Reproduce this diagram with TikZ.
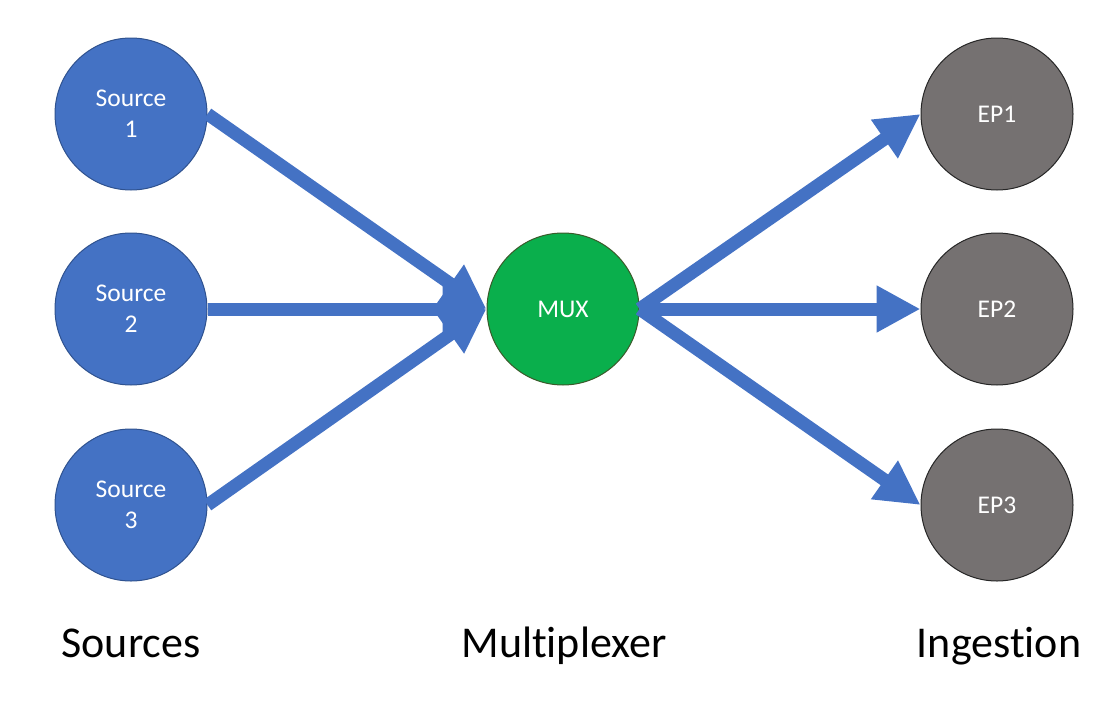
\documentclass[tikz,border=0pt]{standalone}
\usepackage{fontspec}
\setmainfont[Ligatures=NoCommon]{Carlito}
\usetikzlibrary{arrows.meta}
\definecolor{srcblue}{HTML}{4472C4}
\definecolor{srcedge}{HTML}{2F528F}
\definecolor{muxgreen}{HTML}{0AAF4C}
\definecolor{muxedge}{HTML}{3A5A2A}
\definecolor{epgrey}{HTML}{757171}
\definecolor{epedge}{HTML}{262626}
\tikzset{
  circ/.style={circle, minimum size=152pt, inner sep=0pt, line width=1pt, text=white, align=center,
    font=\fontsize{25.5}{31}\selectfont},
  src/.style={circ, fill=srcblue, draw=srcedge},
  mux/.style={circ, fill=muxgreen, draw=muxedge},
  ep/.style={circ, fill=epgrey, draw=epedge},
  flow/.style={draw=srcblue, line width=13pt, -{Triangle[width=44pt,length=44pt]}},
  lbl/.style={anchor=base, font=\fontsize{44}{52}\selectfont, text=black}
}
\begin{document}
\begin{tikzpicture}[x=1pt,y=-1pt]
\useasboundingbox (0,0) rectangle (1120,718);
\node[src] (s1) at (131,114) {Source\\1};
\node[src] (s2) at (131,309) {Source\\2};
\node[src] (s3) at (131,505) {Source\\3};
\node[mux] (mux) at (563,309) {MUX};
\node[ep] (e1) at (997,114) {EP1};
\node[ep] (e2) at (997,309) {EP2};
\node[ep] (e3) at (997,505) {EP3};
\draw[flow] (s1.east) -- (mux.west);
\draw[flow] (s2.east) -- (mux.west);
\draw[flow] (s3.east) -- (mux.west);
\draw[flow] (mux.east) -- (e1.west);
\draw[flow] (mux.east) -- (e2.west);
\draw[flow] (mux.east) -- (e3.west);
\node[lbl] (l1) at (131,657) {Sources};
\node[lbl] (l2) at (564,657) {Multiplexer};
\node[lbl] (l3) at (999,657) {Ingestion};
\end{tikzpicture}
\end{document}
